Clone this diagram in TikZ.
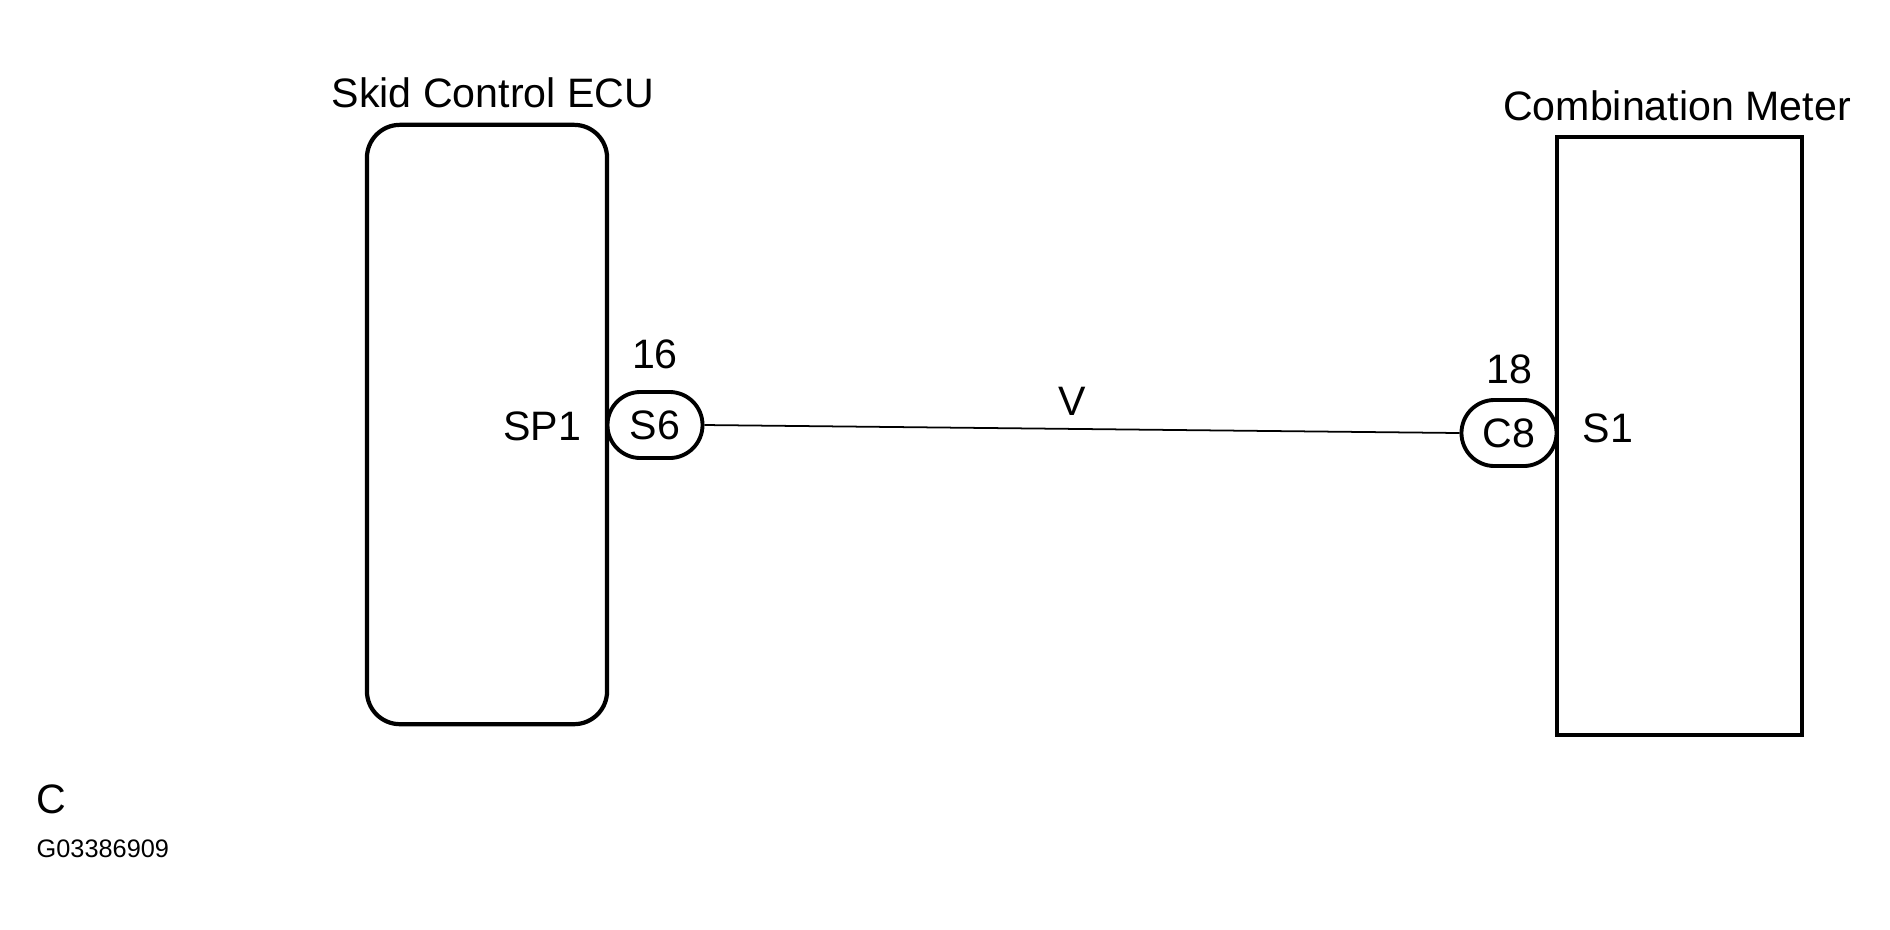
\documentclass[tikz,border=0pt]{standalone}
\usepackage{fontspec}
\setmainfont{Liberation Sans}
\usetikzlibrary{positioning}

\begin{document}
\begin{tikzpicture}[x=0.01cm,y=-0.01cm,
  unitbox/.style={draw,line width=1.2pt,inner sep=0pt},
  plug/.style={draw,line width=1.1pt,rounded corners=0.33cm,minimum width=0.95cm,
    minimum height=0.66cm,inner sep=0pt,font=\fontsize{11.7}{14}\selectfont},
  lbl/.style={inner sep=0pt,font=\fontsize{11.7}{14}\selectfont}]
  \useasboundingbox (0,0) rectangle (1890,929);
% units
  \node[unitbox,rounded corners=0.33cm,minimum width=2.4cm,minimum height=5.99cm] (ecu) at (487,424.5) {};
  \node[unitbox,minimum width=2.45cm,minimum height=5.98cm] (meter) at (1679.5,436) {};
  \node[lbl,anchor=base] (ecutitle) at (493,107) {Skid Control ECU};
  \node[lbl,anchor=base] (metertitle) at (1677,120) {Combination Meter};
% connectors and wire
  \node[plug] (s6) at (655,425) {S6};
  \node[plug] (c8) at (1509,433) {C8};
  \draw[line width=0.5pt] (s6.east) -- node[lbl,pos=0.487,above=0.13cm]{V} (c8.west);
  \node[lbl,above=0.2cm of s6] (pin16) {16};
  \node[lbl,above=0.13cm of c8] (pin18) {18};
  \node[lbl,anchor=east] (sp1) at (582,426) {SP1};
  \node[lbl,anchor=west] (s1) at (1582,428) {S1};
% footer
  \node[lbl,anchor=base west] (code) at (36,813) {C};
  \node[lbl,anchor=base west,font=\fontsize{7.2}{9}\selectfont] (ref) at (36,857) {G03386909};
\end{tikzpicture}
\end{document}
